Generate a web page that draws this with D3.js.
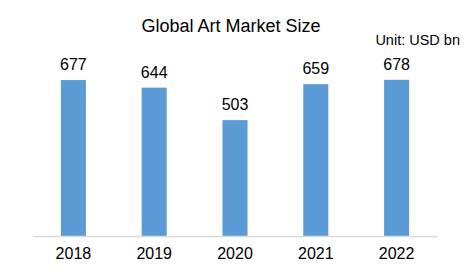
<!DOCTYPE html>
<html><head><meta charset="utf-8">
<script src="https://cdn.jsdelivr.net/npm/d3@7"></script>
<style>body{margin:0;background:#fff}svg{display:block}text{font-family:Arial,"Liberation Sans",sans-serif;fill:#000}</style>
</head><body>
<script>
const years = ["2018","2019","2020","2021","2022"];
const values = [677, 644, 503, 659, 678];
const title = "Global Art Market Size";
const unit = "Unit: USD bn";

const W = 468, H = 277;
const svg = d3.select("body").append("svg").attr("width", W).attr("height", H);
const x = d3.scaleBand().domain(years).range([33, 437]).paddingInner(0.69).paddingOuter(0.345);
const y = d3.scaleLinear().domain([0, 800]).range([236, 51.7]);

svg.append("text").attr("x", 231).attr("y", 32).attr("text-anchor","middle").attr("font-size", 18).text(title);
svg.append("text").attr("x", 460).attr("y", 45).attr("text-anchor","end").attr("font-size", 14.5).text(unit);

svg.selectAll("rect.bar").data(values).join("rect").attr("class","bar")
  .attr("x", (d,i)=>x(years[i])).attr("width", x.bandwidth())
  .attr("y", d=>y(d)).attr("height", d=>y(0)-y(d)).attr("fill","#5B9BD5");

svg.selectAll("text.val").data(values).join("text").attr("class","val")
  .attr("x", (d,i)=>x(years[i])+x.bandwidth()/2).attr("y", d=>y(d)-10)
  .attr("text-anchor","middle").attr("font-size",16).text(d=>d);

const ax = svg.append("g").attr("transform","translate(0,236)").call(d3.axisBottom(x).tickSize(0).tickPadding(12));
ax.select(".domain").attr("stroke","#d9d9d9").attr("stroke-width",1.5);
ax.selectAll("text").attr("font-size",16).attr("font-family","Arial, Liberation Sans, sans-serif").attr("fill","#000");
</script>
</body></html>
